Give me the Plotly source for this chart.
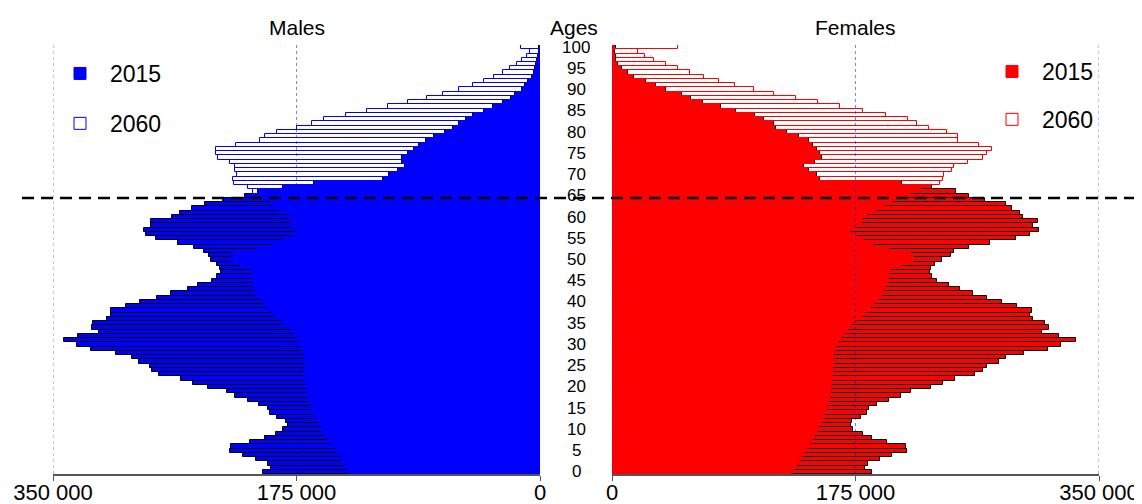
import numpy as np
import plotly.graph_objects as go

ages = list(range(0, 101))

# values in thousands of persons, ages 0..100
male_2015 = [198.8, 193.6, 195.2, 204.4, 213.7, 222.8, 222.1, 208.4, 197.6, 190.0,
             184.5, 181.4, 182.8, 189.3, 194.0, 195.7, 201.7, 209.9, 219.0, 225.0,
             238.6, 249.2, 257.8, 273.6, 278.6, 280.5, 288.0, 293.5, 305.0, 322.9,
             333.0, 341.9, 332.0, 316.9, 322.2, 321.0, 311.0, 308.6, 308.6, 297.8,
             287.5, 275.5, 265.2, 253.2, 246.0, 235.7, 231.9, 229.3, 230.0, 232.4,
             236.5, 238.0, 241.2, 248.4, 260.5, 276.2, 283.5, 284.9, 279.6, 279.6,
             264.2, 258.7, 250.0, 240.6, 227.6, 212.0, 202.4, 184.5, 162.4, 113.1,
             108.3, 102.3, 96.8, 99.4, 99.2, 95.1, 90.3, 87.0, 82.2, 76.0,
             68.3, 62.3, 58.5, 53.4, 48.4, 40.0, 34.0, 26.4, 20.8, 18.0,
             13.2, 10.8, 8.4, 5.5, 4.3, 3.4, 2.7, 2.0, 1.5, 1.0,
             0.6]
male_2060 = [137.3, 138.9, 140.1, 141.8, 143.7, 144.9, 146.6, 150.2, 152.1, 154.3,
             155.7, 157.6, 158.6, 160.5, 161.7, 163.4, 164.1, 165.3, 165.8, 167.0,
             167.7, 168.0, 168.1, 168.2, 168.2, 168.2, 168.2, 168.7, 168.9, 169.6,
             171.3, 173.0, 174.4, 176.1, 179.2, 182.5, 185.7, 189.3, 192.1, 195.2,
             198.1, 200.8, 203.1, 204.8, 206.0, 206.5, 206.0, 205.5, 207.7, 214.9,
             221.6, 219.2, 203.6, 192.1, 183.3, 176.1, 171.3, 175.0, 178.5, 178.5,
             178.5, 181.3, 186.1, 191.7, 193.3, 200.0, 206.5, 210.1, 219.7, 220.4,
             217.5, 219.0, 219.2, 222.8, 231.2, 232.9, 232.9, 218.7, 201.0, 197.4,
             188.8, 174.4, 164.1, 155.0, 139.7, 124.6, 109.0, 95.1, 81.5, 69.5,
             58.0, 48.4, 40.0, 32.8, 26.4, 21.3, 16.3, 12.7, 9.1, 7.2,
             13.4]
female_2015 = [187.2, 181.9, 183.9, 192.7, 201.5, 211.9, 211.1, 197.5, 186.7, 180.3,
               173.5, 171.9, 172.8, 179.0, 183.6, 185.0, 190.8, 199.4, 207.5, 214.7,
               229.1, 237.7, 246.6, 260.7, 266.9, 269.3, 278.2, 283.0, 296.1, 313.6,
               322.7, 333.5, 321.5, 309.0, 314.3, 311.2, 302.8, 300.4, 301.6, 291.3,
               280.3, 269.8, 259.7, 250.4, 242.2, 233.9, 229.8, 228.6, 229.1, 232.4,
               237.4, 243.9, 245.8, 256.7, 271.9, 290.3, 300.3, 306.9, 302.9, 306.0,
               295.6, 293.5, 287.7, 283.2, 268.1, 256.8, 247.0, 229.8, 208.7, 149.6,
               147.2, 141.5, 138.1, 146.0, 150.8, 149.6, 147.2, 144.2, 141.7, 134.7,
               126.1, 117.8, 116.1, 108.9, 103.1, 89.1, 78.3, 65.1, 56.7, 50.3,
               38.5, 31.3, 24.4, 16.0, 11.2, 7.2, 4.0, 3.1, 2.6, 1.9,
               3.1]
female_2060 = [129.3, 130.9, 132.9, 134.8, 136.4, 138.8, 140.5, 142.4, 144.1, 146.0,
               147.7, 149.1, 150.8, 152.0, 153.2, 154.4, 155.1, 156.3, 156.8, 157.3,
               158.0, 158.2, 158.4, 158.5, 158.5, 158.5, 158.5, 159.2, 159.9, 160.4,
               161.6, 162.8, 165.2, 167.1, 169.9, 172.4, 175.5, 179.6, 182.6, 186.0,
               189.1, 192.2, 194.3, 195.8, 197.0, 198.2, 198.7, 199.0, 200.4, 208.3,
               217.1, 215.0, 199.8, 188.6, 181.2, 174.7, 171.1, 172.0, 175.4, 180.0,
               180.0, 183.8, 190.7, 197.0, 202.3, 208.0, 215.0, 222.0, 235.8, 238.2,
               238.9, 244.6, 246.1, 256.1, 266.9, 269.3, 272.9, 264.0, 248.9, 248.9,
               240.6, 228.1, 219.5, 213.0, 197.0, 180.3, 164.0, 147.7, 132.1, 116.6,
               101.7, 88.3, 76.6, 65.8, 55.7, 47.1, 38.5, 29.9, 23.4, 18.4,
               47.1]

age_ticks = list(range(0, 101, 5))
x_tickvals = [0, 175000, 350000]
x_ticktext = ["0", "175 000", "350 000"]
threshold_age = 64.5

FONT = "Liberation Sans, Arial, sans-serif"
BLUE = "rgb(0,0,255)"
RED = "rgb(255,0,0)"

m15 = np.array(male_2015) * 1000
m60 = np.array(male_2060) * 1000
f15 = np.array(female_2015) * 1000
f60 = np.array(female_2060) * 1000

fig = go.Figure()
# data traces
fig.add_trace(go.Bar(y=ages, x=m15, orientation="h", name="2015", xaxis="x", yaxis="y",
                     marker=dict(color=BLUE, line=dict(color="black", width=1)),
                     showlegend=False))
fig.add_trace(go.Bar(y=ages, x=m60, orientation="h", name="2060", xaxis="x", yaxis="y",
                     marker=dict(color="rgba(0,0,0,0)", line=dict(color=BLUE, width=1)),
                     showlegend=False))
fig.add_trace(go.Bar(y=ages, x=f15, orientation="h", name="2015", xaxis="x2", yaxis="y",
                     marker=dict(color=RED, line=dict(color="black", width=1)),
                     showlegend=False))
fig.add_trace(go.Bar(y=ages, x=f60, orientation="h", name="2060", xaxis="x2", yaxis="y",
                     marker=dict(color="rgba(0,0,0,0)", line=dict(color=RED, width=1)),
                     showlegend=False))
# legend entries
for nm, col, fill, leg, grp, xa in [
        ("2015", BLUE, BLUE, "legend", "m15", "x"),
        ("2060", BLUE, "white", "legend", "m60", "x"),
        ("2015", RED, RED, "legend2", "f15", "x2"),
        ("2060", RED, "white", "legend2", "f60", "x2")]:
    fig.add_trace(go.Bar(y=[None], x=[None], orientation="h", name=nm, xaxis=xa, yaxis="y",
                         marker=dict(color=fill, line=dict(color=col, width=1)),
                         legend=leg, legendgroup=grp, showlegend=True, hoverinfo="skip"))

OFF = 8  # page body margin
W, H = 1142 - OFF, 504 - OFF
L, R, T, B = 53 - OFF, W - (1099 - OFF), 45 - OFF, H - (474 - OFF)
pw = W - L - R
ph = H - T - B

def px_x(p):
    return (p - OFF - L) / pw

def px_y(p):
    return 1 - (p - OFF - T) / ph

axis_common = dict(showgrid=False, zeroline=False, showline=True, linecolor="#555555",
                   linewidth=1.5, ticks="outside", ticklen=5, tickcolor="#555555",
                   tickfont=dict(family=FONT, size=22, color="black"),
                   ticklabelstandoff=-7,
                   tickvals=x_tickvals, ticktext=x_ticktext, fixedrange=True)

fig.update_layout(
    width=W, height=H,
    margin=dict(l=L, r=R, t=T, b=B, autoexpand=False),
    paper_bgcolor="white", plot_bgcolor="white",
    barmode="overlay", bargap=0,
    font=dict(family=FONT, color="black"),
    xaxis=dict(domain=[0, px_x(540)], range=[350000, 0], anchor="y", **axis_common),
    xaxis2=dict(domain=[px_x(612), 1], range=[0, 350000], anchor="y", **axis_common),
    yaxis=dict(range=[-0.5, 100.5], showticklabels=False, showgrid=False, zeroline=False,
               showline=False, ticks="", fixedrange=True),
    legend=dict(x=px_x(50), y=px_y(52), xanchor="left", yanchor="top",
                font=dict(family=FONT, size=23), bgcolor="rgba(0,0,0,0)",
                traceorder="grouped", tracegroupgap=17, itemwidth=50),
    legend2=dict(x=px_x(982), y=px_y(50), xanchor="left", yanchor="top",
                 font=dict(family=FONT, size=23), bgcolor="rgba(0,0,0,0)",
                 traceorder="grouped", tracegroupgap=15, itemwidth=50),
    showlegend=True,
)

shapes = []
for xr in ("x", "x2"):
    for v in x_tickvals:
        shapes.append(dict(type="line", xref=xr, yref="y", x0=v, x1=v, y0=-0.5, y1=100.5,
                           line=dict(color="rgba(0,0,255,0.5)", width=1, dash="dot"),
                           layer="above"))
shapes.append(dict(type="line", xref="paper", yref="y", x0=px_x(22), x1=px_x(1142),
                   y0=threshold_age, y1=threshold_age,
                   line=dict(color="black", width=2.5, dash="12px,7px"), layer="above"))
fig.update_layout(shapes=shapes)

annotations = []
for a in age_ticks:
    annotations.append(dict(x=px_x(576), xref="paper", y=a, yref="y", text=str(a),
                            showarrow=False, xanchor="center", yanchor="middle",
                            font=dict(family=FONT, size=17, color="black")))
annotations.append(dict(x=175000, xref="x", y=px_y(28), yref="paper", text="Males",
                        showarrow=False, xanchor="center", yanchor="middle",
                        font=dict(family=FONT, size=21, color="black")))
annotations.append(dict(x=175000, xref="x2", y=px_y(28), yref="paper", text="Females",
                        showarrow=False, xanchor="center", yanchor="middle",
                        font=dict(family=FONT, size=21, color="black")))
annotations.append(dict(x=px_x(574), xref="paper", y=px_y(28), yref="paper", text="Ages",
                        showarrow=False, xanchor="center", yanchor="middle",
                        font=dict(family=FONT, size=21, color="black")))
fig.update_layout(annotations=annotations)

fig.write_html("out.html")
